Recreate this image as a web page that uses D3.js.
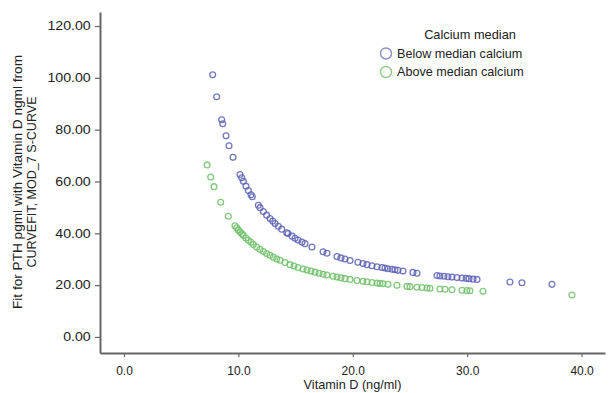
<!DOCTYPE html>
<html>
<head>
<meta charset="utf-8">
<script src="https://cdn.jsdelivr.net/npm/d3@7"></script>
<style>
  html, body { margin: 0; padding: 0; background: #fff; }
  svg { display: block; font-family: "Liberation Sans", Arial, sans-serif; }
</style>
</head>
<body>
<svg id="chart" width="609" height="393"></svg>
<script>
// Fitted PTH (pg/ml) against vitamin D (ng/ml), split by calcium median
const belowX = [7.75, 8.10, 8.54, 8.63, 8.92, 9.18, 9.53, 10.14, 10.29, 10.43, 10.66, 10.87, 11.10, 11.22,
  11.74, 11.89, 12.18, 12.47, 12.76, 13.00, 13.20, 13.49, 13.79, 14.22, 14.34, 14.69, 14.95, 15.21, 15.56,
  15.82, 16.43, 17.40, 17.74, 18.62, 18.97, 19.32, 19.76, 20.45, 20.89, 21.24, 21.68, 22.12, 22.55, 22.81,
  23.08, 23.43, 23.69, 23.95, 24.39, 25.26, 25.61, 27.36, 27.62, 27.97, 28.32, 28.67, 29.11, 29.55, 29.90,
  30.16, 30.51, 30.86, 33.74, 34.79, 37.41];
const belowY = [101.2, 92.7, 83.8, 82.3, 77.6, 73.8, 69.3, 62.7, 61.4, 60.1, 58.2, 56.5, 54.9, 54.1,
  50.8, 49.9, 48.4, 47.0, 45.7, 44.7, 43.8, 42.7, 41.6, 40.2, 39.9, 38.9, 38.1, 37.4, 36.6,
  36.0, 34.7, 32.9, 32.3, 31.0, 30.5, 30.1, 29.5, 28.8, 28.3, 27.9, 27.5, 27.1, 26.8, 26.6,
  26.3, 26.1, 25.9, 25.7, 25.4, 24.9, 24.6, 23.7, 23.5, 23.4, 23.2, 23.1, 22.9, 22.7, 22.6,
  22.5, 22.3, 22.2, 21.2, 20.9, 20.3];

const aboveX = [7.26, 7.58, 7.87, 8.45, 9.12, 9.70, 9.85, 9.99, 10.14, 10.29, 10.43, 10.66, 10.87, 11.10,
  11.30, 11.60, 11.89, 12.18, 12.47, 12.76, 13.05, 13.35, 13.64, 14.07, 14.51, 14.86, 15.21, 15.65, 16.00,
  16.35, 16.70, 17.05, 17.40, 17.74, 18.27, 18.62, 18.97, 19.32, 19.76, 20.37, 20.89, 21.24, 21.68, 22.12,
  22.38, 22.64, 23.08, 23.86, 24.74, 25.00, 25.61, 26.05, 26.49, 26.75, 27.62, 28.06, 28.67, 29.55, 29.98,
  30.24, 31.38, 39.16];
const aboveY = [66.4, 61.7, 58.0, 52.0, 46.6, 42.9, 42.1, 41.3, 40.6, 39.9, 39.2, 38.2, 37.3, 36.5,
  35.7, 34.7, 33.8, 33.0, 32.2, 31.5, 30.8, 30.1, 29.6, 28.7, 27.9, 27.4, 26.8, 26.2, 25.8,
  25.4, 25.0, 24.6, 24.2, 23.9, 23.4, 23.1, 22.8, 22.5, 22.2, 21.8, 21.5, 21.3, 21.0, 20.8,
  20.6, 20.5, 20.3, 19.9, 19.5, 19.4, 19.2, 19.1, 18.9, 18.8, 18.5, 18.4, 18.2, 18.0, 17.9,
  17.8, 17.6, 16.2];

const xTicks = [0, 10, 20, 30, 40];
const yTicks = [0, 20, 40, 60, 80, 100, 120];
const groupNames = ["Below median calcium", "Above median calcium"];
const legendTitle = "Calcium median";
const xTitle = "Vitamin D (ng/ml)";
const yTitleLines = ["Fit for PTH pgml with Vitamin D ngml from", "CURVEFIT, MOD_7 S-CURVE"];

const colors = ["#5a60b4", "#6cbf66"];
const legendColors = ["#8a8cc8", "#8cc886"];

const svg = d3.select("#chart");

const x = d3.scaleLinear().domain([-2.1, 42.05]).range([100, 605]);
const y = d3.scaleLinear().domain([-6.2, 125.4]).range([353, 12]);

// Axes
const axisColor = "#666";
const xAxis = svg.append("g")
  .attr("transform", `translate(0,${y(-6.2)})`)
  .call(d3.axisBottom(x).tickValues(xTicks).tickFormat(d3.format(".1f")).tickSize(4).tickSizeOuter(0));
const yAxis = svg.append("g")
  .attr("transform", `translate(${x(-2.1)},0)`)
  .call(d3.axisLeft(y).tickValues(yTicks).tickFormat(d3.format(".2f")).tickSize(5).tickSizeOuter(0));

[xAxis, yAxis].forEach(g => {
  g.select(".domain").attr("stroke", axisColor).attr("stroke-width", 2);
  g.selectAll(".tick line").attr("stroke", axisColor).attr("stroke-width", 1.2);
  g.selectAll(".tick text").attr("fill", "#222").style("font-size", "12px");
});
xAxis.selectAll(".tick text").attr("dy", "1.25em");
// value labels on the vertical axis are set a little wide
const yStretch = 1.18;
yAxis.selectAll(".tick text")
  .attr("x", -9.3 / yStretch)
  .attr("transform", `scale(${yStretch},1)`);

// Axis titles
svg.append("text")
  .attr("x", (x.range()[0] + x.range()[1]) / 2)
  .attr("y", 389)
  .attr("text-anchor", "middle")
  .attr("fill", "#222")
  .style("font-size", "12.7px")
  .text(xTitle);

const yTitleLengths = [254, 171];
const yTitle = svg.append("text")
  .attr("transform", "translate(22,182) rotate(-90)")
  .attr("text-anchor", "middle")
  .attr("fill", "#222")
  .style("font-size", "12px");
yTitleLines.forEach((line, i) => {
  yTitle.append("tspan")
    .attr("x", 0)
    .attr("dy", i === 0 ? 0 : 13.5)
    .attr("textLength", yTitleLengths[i])
    .attr("lengthAdjust", "spacingAndGlyphs")
    .text(line);
});

// Points
const groups = [
  { xs: belowX, ys: belowY, color: colors[0] },
  { xs: aboveX, ys: aboveY, color: colors[1] }
];
groups.forEach(grp => {
  svg.append("g")
    .selectAll("circle")
    .data(grp.xs.map((v, i) => [v, grp.ys[i]]))
    .join("circle")
    .attr("cx", d => x(d[0]))
    .attr("cy", d => y(d[1]))
    .attr("r", 2.9)
    .attr("fill", "none")
    .attr("stroke", grp.color)
    .attr("stroke-width", 1.3)
    .attr("stroke-opacity", 0.85);
});

// Legend
const legend = svg.append("g");
legend.append("text")
  .attr("x", 470).attr("y", 39)
  .attr("text-anchor", "middle")
  .attr("fill", "#222")
  .style("font-size", "12.8px")
  .text(legendTitle);
groupNames.forEach((name, i) => {
  const cy = 53.5 + i * 18.5;
  legend.append("circle")
    .attr("cx", 386).attr("cy", cy).attr("r", 5.5)
    .attr("fill", "none")
    .attr("stroke", legendColors[i])
    .attr("stroke-width", 1.4);
  legend.append("text")
    .attr("x", 397).attr("y", cy + 4.3)
    .attr("fill", "#222")
    .style("font-size", "12.6px")
    .text(name);
});
</script>
</body>
</html>
